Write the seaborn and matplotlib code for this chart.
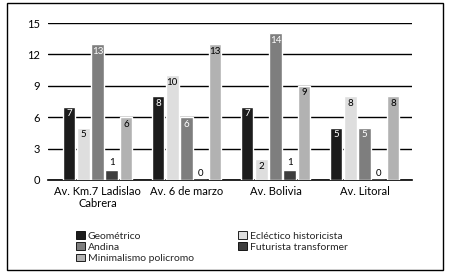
import pandas as pd
import seaborn as sns
import matplotlib.pyplot as plt
from matplotlib.patches import Rectangle, Patch

# data
avenidas = ['Av. Km.7 Ladislao\nCabrera', 'Av. 6 de marzo', 'Av. Bolivia', 'Av. Litoral']
estilos = ['Geométrico', 'Ecléctico historicista', 'Andina', 'Futurista transformer', 'Minimalismo policromo']
geometrico = [7, 8, 7, 5]
eclectico = [5, 10, 2, 8]
andina = [13, 6, 14, 5]
futurista = [1, 0, 1, 0]
minimalismo = [6, 13, 9, 8]

colores = ['#1c1c1c', '#dedede', '#7e7e7e', '#3e3e3e', '#b2b2b2']
color_texto = ['white', 'black', 'white', 'black', 'black']

rows = []
for estilo, vals in zip(estilos, [geometrico, eclectico, andina, futurista, minimalismo]):
    for av, v in zip(avenidas, vals):
        rows.append({'avenida': av, 'estilo': estilo, 'valor': v})
df = pd.DataFrame(rows)

sns.set_style('white')
plt.rcParams['font.family'] = ['Lato', 'DejaVu Sans']

fig = plt.figure(figsize=(4.5, 2.8), dpi=100)
ax = fig.add_axes([48 / 450, 1 - 180 / 280, 364 / 450, 157 / 280])

sns.barplot(data=df, x='avenida', y='valor', hue='estilo', order=avenidas,
            hue_order=estilos, palette=colores, width=0.8, gap=0.1,
            saturation=1, ax=ax, legend=False, zorder=3)

for cont, tc in zip(ax.containers, color_texto):
    for bar in cont:
        h = bar.get_height()
        xc = bar.get_x() + bar.get_width() / 2
        if h >= 2:
            ax.text(xc, h - 0.25, f'{int(h)}', ha='center', va='top',
                    color=tc, fontsize=7, zorder=5)
        else:
            ax.text(xc, h + 0.2, f'{int(h)}', ha='center', va='bottom',
                    color='black', fontsize=7, zorder=5)

ax.set_ylim(0, 15)
ax.set_xlim(-0.556, 3.534)
ax.set_yticks([0, 3, 6, 9, 12, 15])
ax.yaxis.grid(True, color='black', linewidth=1)
ax.set_axisbelow(True)
for s in ['top', 'right', 'left']:
    ax.spines[s].set_visible(False)
ax.spines['bottom'].set_color('black')
ax.spines['bottom'].set_linewidth(1.2)
ax.tick_params(axis='both', length=0, labelsize=8, colors='black', pad=6)
ax.tick_params(axis='x', pad=4)
ax.set_xlabel('')
ax.set_ylabel('')

# legend: column order as in the reference
orden = [0, 2, 4, 1, 3]
handles = [Patch(facecolor=colores[i], edgecolor='black', linewidth=0.6) for i in orden]
fig.legend(handles, [estilos[i] for i in orden], ncol=2, loc='upper left',
           bbox_to_anchor=(72 / 450, 1 - 227 / 280), frameon=False, fontsize=7.5,
           handlelength=0.8, handleheight=0.8, handletextpad=0.3,
           labelspacing=0.15, columnspacing=4.3, borderaxespad=0)

fig.patches.append(Rectangle((7 / 450, 1 - 270 / 280), 436 / 450, 267 / 280,
                             transform=fig.transFigure, fill=False,
                             edgecolor='black', linewidth=1))

fig.savefig('out.png', dpi=100)
